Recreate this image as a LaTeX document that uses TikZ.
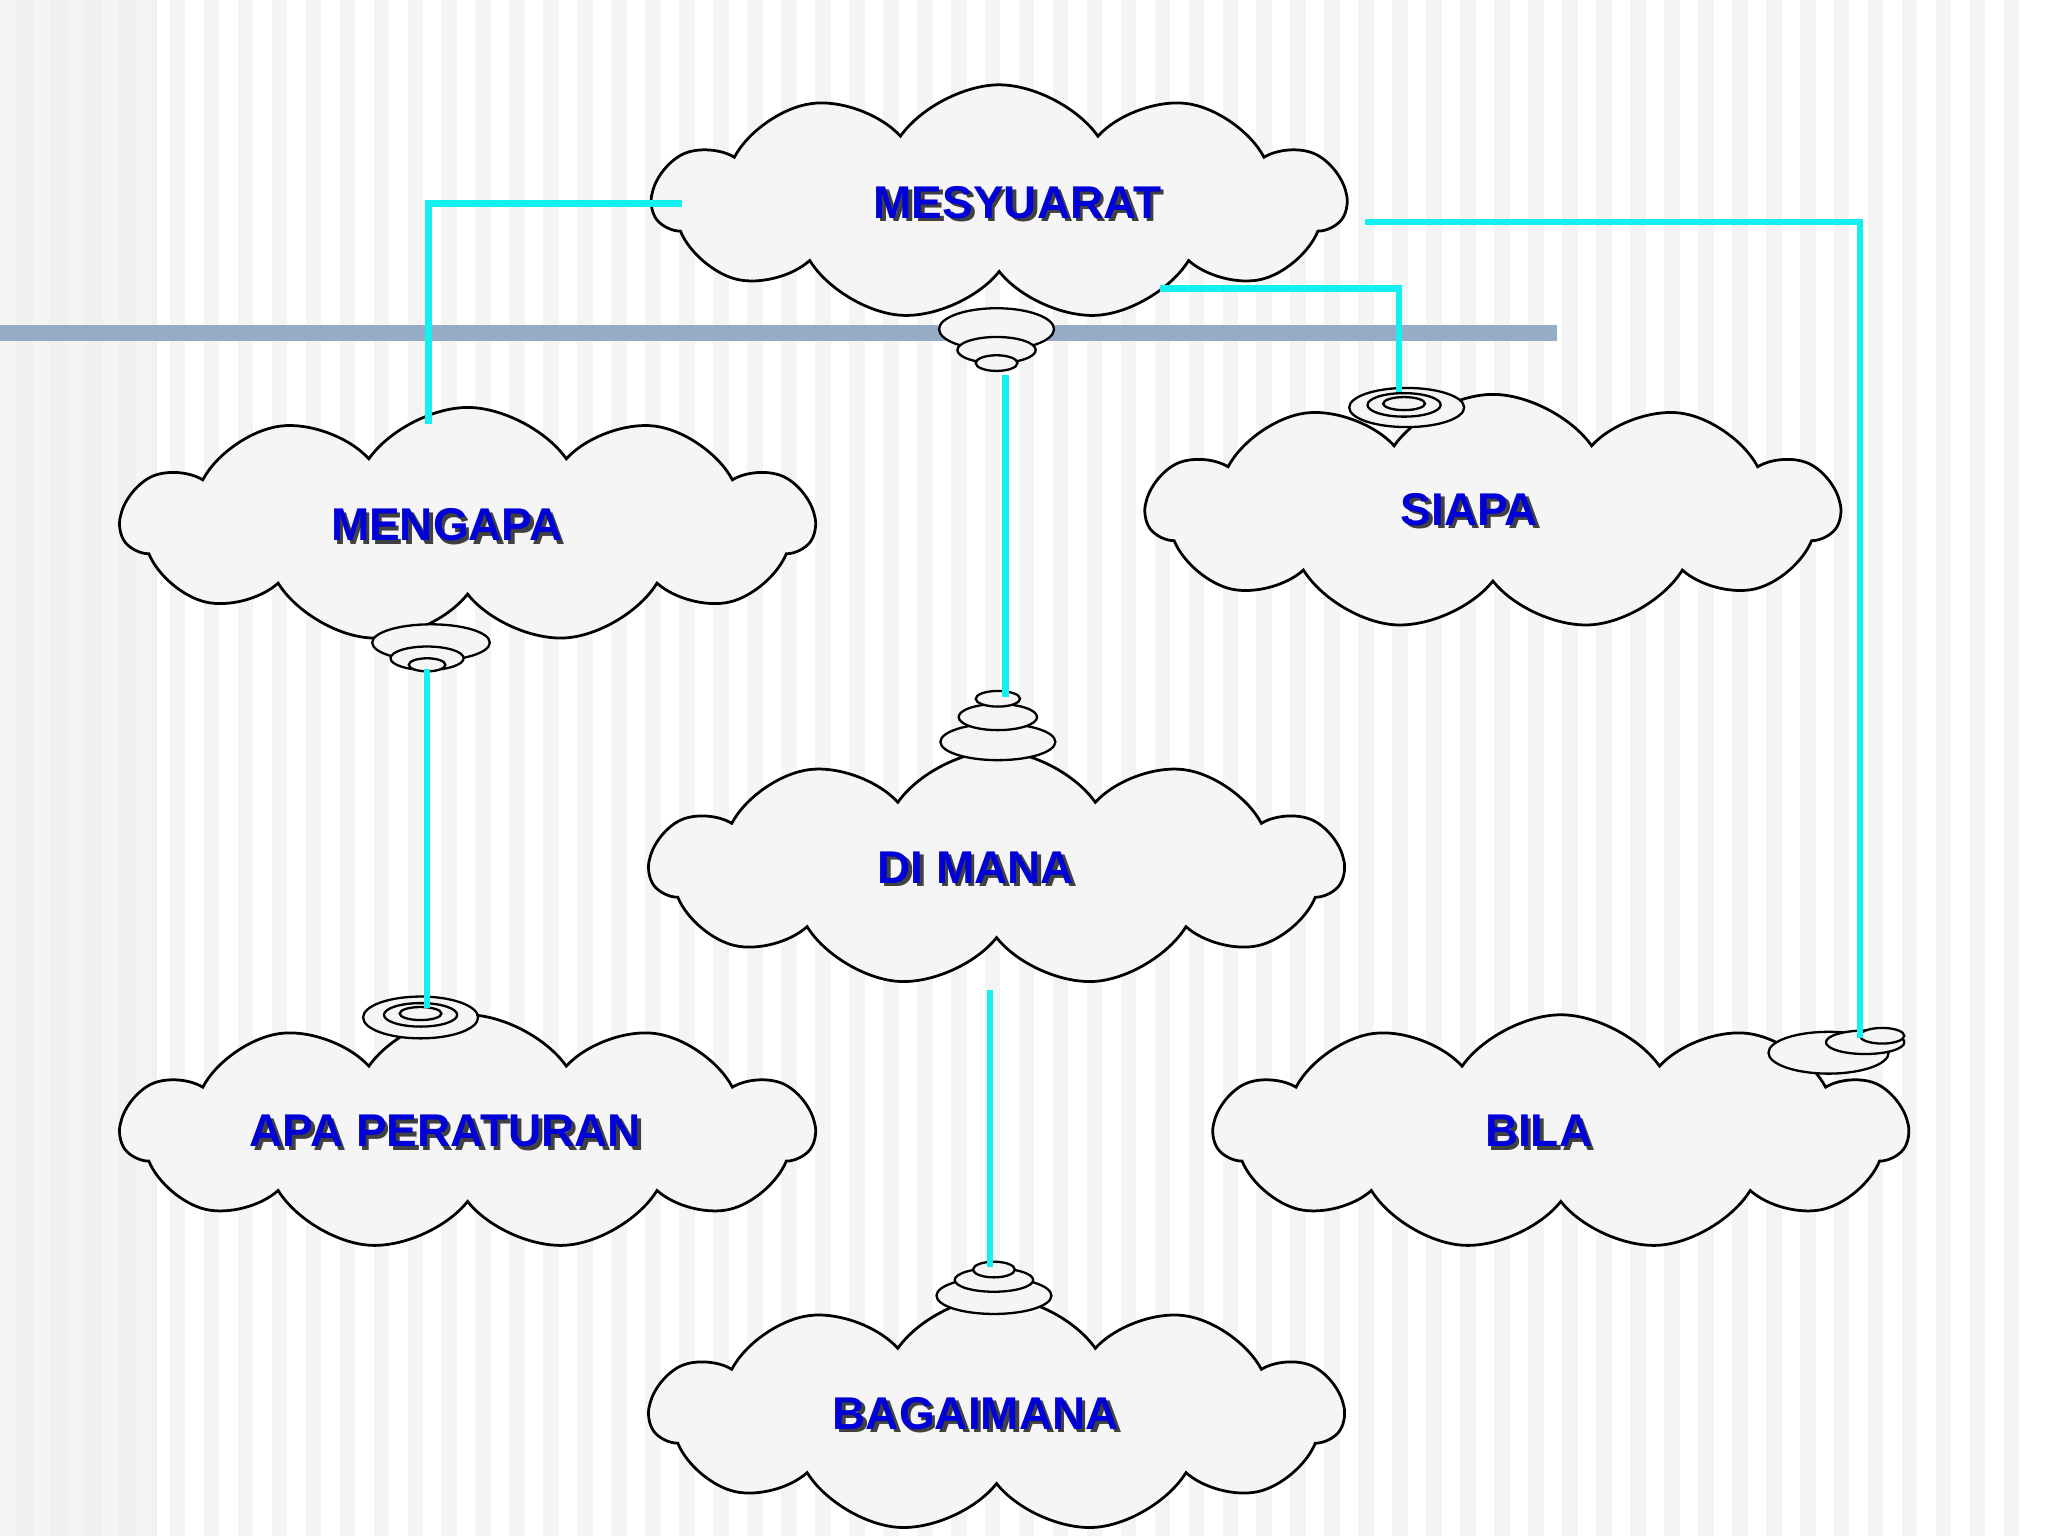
\documentclass[tikz,border=0pt]{standalone}
\usepackage{fontspec}
\setmainfont{Liberation Sans}
\usetikzlibrary{shapes.symbols}
\definecolor{band}{RGB}{150,172,198}
\definecolor{ccy}{RGB}{20,240,240}
\begin{document}
\begin{tikzpicture}[x=0.01cm,y=-0.01cm,
  cl/.style={cloud,cloud puffs=11,cloud puff arc=110,aspect=3,draw=black,line width=0.6pt,fill=gray!8,minimum width=5.3cm,minimum height=1.8cm,inner sep=0pt},
  lbl/.style={font=\fontsize{10}{12}\selectfont\bfseries,text=blue!85!black},
  shd/.style={font=\fontsize{10}{12}\selectfont\bfseries,text=black!75},
  con/.style={ccy,line width=0.05cm},
  bub/.style={draw=black,line width=0.5pt,fill=gray!8}]
\useasboundingbox (0,0) rectangle (1568,1176);
\fill[white] (0,0) rectangle (1568,1176);
\fill[gray!12] (0,0) rectangle (120,1176);
\foreach \i in {0,...,59}{\fill[gray!9] (\i*26,0) rectangle (\i*26+12,1176);}
\fill[band] (0,249) rectangle (1192,261);
% clouds: name, x, y, text, label x, label y
\newcommand{\cloudnode}[6]{\node[cl] (#1) at (#2,#3) {};
  \node[shd] at ([xshift=0.8pt,yshift=-0.8pt]#5,#6) {#4};
  \node[lbl] (#1t) at (#5,#6) {#4};}
\cloudnode{mes}{765}{155}{MESYUARAT}{779}{155}
\cloudnode{men}{358}{402}{MENGAPA}{342}{402}
\cloudnode{sia}{1143}{392}{SIAPA}{1125}{390}
\cloudnode{dim}{763}{665}{DI MANA}{747}{664}
\cloudnode{apa}{358}{867}{APA PERATURAN}{341}{866}
\cloudnode{bil}{1195}{867}{BILA}{1178}{866}
\cloudnode{bag}{763}{1083}{BAGAIMANA}{747}{1082}
% bubbles
\draw[bub] (763,252) ellipse (44 and 16);
\draw[bub] (763,268) ellipse (30 and 10);
\draw[bub] (763,278) ellipse (16 and 6);
\draw[bub] (330,492) ellipse (45 and 14);
\draw[bub] (327,504) ellipse (28 and 9);
\draw[bub] (327,509) ellipse (14 and 5);
\draw[bub] (1077,312) ellipse (44 and 15);
\draw[bub] (1075,310) ellipse (28 and 9);
\draw[bub] (1075,309) ellipse (16 and 5);
\draw[bub] (322,779) ellipse (44 and 16);
\draw[bub] (322,777) ellipse (28 and 9);
\draw[bub] (322,776) ellipse (16 and 5);
\draw[bub] (764,568) ellipse (44 and 14);
\draw[bub] (764,549) ellipse (30 and 10);
\draw[bub] (764,535) ellipse (17 and 6);
\draw[bub] (761,992) ellipse (44 and 14);
\draw[bub] (761,980) ellipse (30 and 9);
\draw[bub] (761,972) ellipse (16 and 6);
\draw[bub] (1400,806) ellipse (46 and 16);
\draw[bub] (1428,798) ellipse (30 and 9);
\draw[bub] (1441,793) ellipse (17 and 6);
% connector coordinates
\coordinate (m1) at (522,156); \coordinate (g1) at (328,325);
\coordinate (m2) at (1045,170); \coordinate (b1) at (1424,795);
\coordinate (m3) at (888,221); \coordinate (s1) at (1071,300);
\coordinate (m4) at (770,287); \coordinate (d1) at (770,534);
\coordinate (g2) at (327,512); \coordinate (a1) at (327,772);
\coordinate (d2) at (758,758); \coordinate (c1) at (758,970);
\draw[con] (m1) -| (g1);
\draw[con] (m2) -| (b1);
\draw[con] (m3) -| (s1);
\draw[con] (m4) -- (d1);
\draw[con] (g2) -- (a1);
\draw[con] (d2) -- (c1);
\end{tikzpicture}
\end{document}
